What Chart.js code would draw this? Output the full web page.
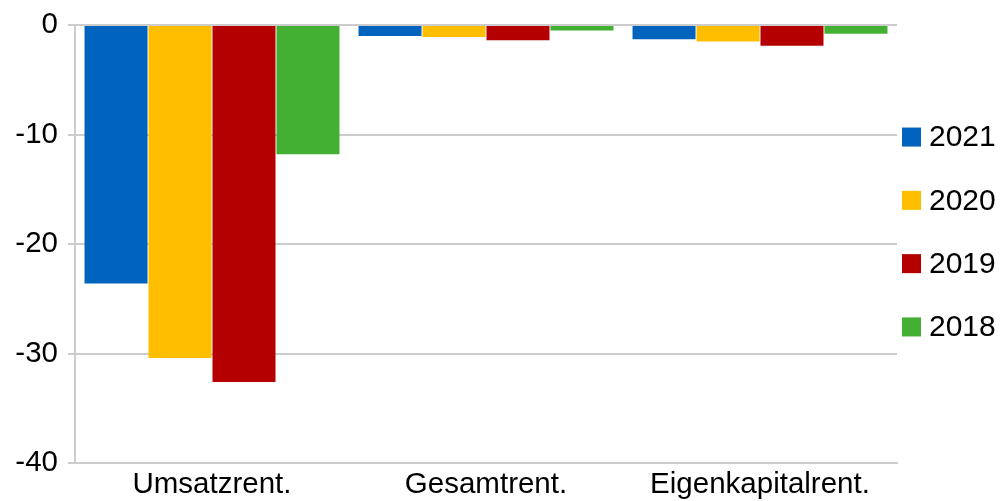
<!DOCTYPE html>
<html>
<head>
<meta charset="utf-8">
<script src="https://cdn.jsdelivr.net/npm/chart.js@4"></script>
<style>
  html, body { margin: 0; padding: 0; background: #ffffff; }
  #wrap { width: 1005px; height: 501px; position: relative; }
</style>
</head>
<body>
<div id="wrap"><canvas id="c" width="1005" height="501"></canvas></div>
<script>
const categories = ["Umsatzrent.", "Gesamtrent.", "Eigenkapitalrent."];
const seriesNames = ["2021", "2020", "2019", "2018"];
const values2021 = [-23.6, -1.0, -1.3];
const values2020 = [-30.4, -1.1, -1.5];
const values2019 = [-32.6, -1.4, -1.9];
const values2018 = [-11.8, -0.5, -0.8];
const seriesColors = ["#0063be", "#ffbf00", "#b40000", "#43b034"];
const yTicks = [0, -10, -20, -30, -40];

const FONT = '"Liberation Sans", Arial, sans-serif';
const GRID = '#cccccc';

const seriesValues = [values2021, values2020, values2019, values2018];

const sideLegend = {
  id: 'sideLegend',
  afterDraw(chart) {
    const ctx = chart.ctx;
    const area = chart.chartArea;
    const mid = (area.top + area.bottom) / 2 - 12;
    const step = 63.3;
    const n = chart.data.datasets.length;
    ctx.save();
    ctx.font = '30px ' + FONT;
    ctx.textBaseline = 'middle';
    ctx.textAlign = 'left';
    chart.data.datasets.forEach((ds, i) => {
      const cy = mid + (i - (n - 1) / 2) * step;
      const bx = area.right + 5;
      ctx.fillStyle = ds.backgroundColor;
      ctx.fillRect(bx, cy - 9.5, 19, 19);
      ctx.fillStyle = '#000000';
      ctx.fillText(ds.label, bx + 27, cy + 1);
    });
    ctx.restore();
  }
};

new Chart(document.getElementById('c'), {
  type: 'bar',
  data: {
    labels: categories,
    datasets: seriesNames.map((name, i) => ({
      label: name,
      data: seriesValues[i],
      backgroundColor: seriesColors[i],
      borderWidth: 0,
      barPercentage: 0.985,
      categoryPercentage: 0.934
    }))
  },
  options: {
    responsive: false,
    animation: false,
    devicePixelRatio: 1,
    layout: { padding: { top: 25, right: 108, left: 0, bottom: 0 } },
    plugins: {
      legend: { display: false },
      tooltip: { enabled: false },
      title: { display: false }
    },
    scales: {
      x: {
        type: 'category',
        offset: true,
        grid: { display: false, drawTicks: false },
        border: { display: true, color: GRID, width: 2 },
        ticks: {
          color: '#000000',
          font: { family: FONT, size: 29.5 },
          padding: 4,
          maxRotation: 0,
          autoSkip: false
        },
        afterFit(scale) { scale.height = 38; }
      },
      y: {
        min: -40,
        max: 0,
        afterBuildTicks(scale) { scale.ticks = yTicks.map(v => ({ value: v })); },
        grid: { color: GRID, lineWidth: 2, tickLength: 7, drawTicks: true },
        border: { display: true, color: GRID, width: 2 },
        ticks: {
          color: '#000000',
          font: { family: FONT, size: 29.5, lineHeight: 1 },
          padding: 10
        },
        afterFit(scale) { scale.width = 75; }
      }
    }
  },
  plugins: [sideLegend]
});
</script>
</body>
</html>
